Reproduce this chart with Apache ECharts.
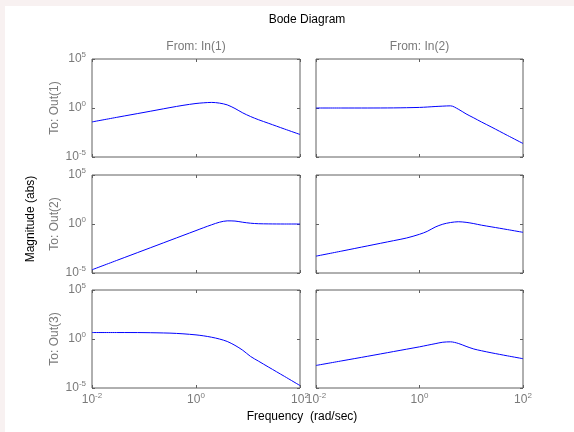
<!DOCTYPE html>
<html><head><meta charset="utf-8">
<script src="https://cdn.jsdelivr.net/npm/echarts@6/dist/echarts.min.js"></script>
<style>
html,body{margin:0;padding:0;background:#f8f1f1;width:574px;height:432px;overflow:hidden}
#paper{position:absolute;left:5px;top:6px;right:0;bottom:0;background:#fff}
#chart{position:absolute;left:0;top:0;width:574px;height:432px}
</style></head><body><div id="paper"></div><div id="chart"></div>
<script>
// Frequencies (rad/sec) shared by all six responses
const freq = [0.01, 0.0316, 0.1, 0.316, 0.562, 1, 1.41, 2, 2.82, 3.98, 5.62, 7.94, 11.2, 15.8, 25.1, 50.1, 100];
// log10 of magnitude (abs), one array per output/input pair
const magOut1In1 = [-1.42, -0.93, -0.45, 0.04, 0.27, 0.46, 0.53, 0.57, 0.5, 0.32, -0.05, -0.5, -0.87, -1.19, -1.57, -2.14, -2.7];
const magOut1In2 = [0, 0, 0, 0.01, 0.03, 0.06, 0.1, 0.15, 0.19, 0.22, -0.12, -0.6, -1.01, -1.43, -1.97, -2.8, -3.62];
const magOut2In1 = [-4.67, -3.67, -2.67, -1.67, -1.17, -0.67, -0.37, -0.08, 0.18, 0.32, 0.3, 0.18, 0.08, 0.03, 0.01, 0, 0];
const magOut2In2 = [-3.28, -2.76, -2.23, -1.7, -1.43, -1.05, -0.75, -0.32, -0.02, 0.15, 0.23, 0.17, 0.04, -0.12, -0.3, -0.57, -0.85];
const magOut3In1 = [0.66, 0.66, 0.65, 0.6, 0.53, 0.42, 0.32, 0.18, 0.0, -0.25, -0.65, -1.15, -1.78, -2.25, -2.88, -3.81, -4.75];
const magOut3In2 = [-2.7, -2.23, -1.76, -1.28, -1.04, -0.8, -0.64, -0.48, -0.33, -0.29, -0.45, -0.75, -1.02, -1.2, -1.42, -1.72, -2.01];
const inputs = ['From: In(1)', 'From: In(2)'];
const outputs = ['To: Out(1)', 'To: Out(2)', 'To: Out(3)'];
const xTicks = [0.01, 1, 100];
const yTicks = [1e-5, 1, 1e5];
const mags = [[magOut1In1, magOut1In2], [magOut2In1, magOut2In2], [magOut3In1, magOut3In2]];

const FONT = '"Liberation Sans", Arial, sans-serif';
const GREY = '#7a7a7a';
const FRAME = '#606060';
const colLeft = [92, 316], colWidth = [208, 207];
const rowTop = [59, 175, 290], rowHeight = 98;

function expLabel(v) {
  const e = Math.round(Math.log10(v));
  return '{b|10}{s|' + e + '}';
}
const rich = {
  b: {fontSize: 12, color: GREY, fontFamily: FONT},
  s: {fontSize: 8, color: GREY, fontFamily: FONT, padding: [0, 0, 8, 0]}
};

const grid = [], xAxis = [], yAxis = [], series = [], graphic = [];
for (let r = 0; r < 3; r++) {
  for (let c = 0; c < 2; c++) {
    const gi = grid.length;
    grid.push({left: colLeft[c], top: rowTop[r], width: colWidth[c], height: rowHeight,
      show: true, borderColor: FRAME, borderWidth: 1, backgroundColor: 'transparent'});
    const xBase = {type: 'log', logBase: 10, gridIndex: gi, min: xTicks[0], max: xTicks[2], interval: 2,
      axisLine: {show: false}, splitLine: {show: false}, minorTick: {show: false},
      axisTick: {show: true, inside: true, length: 3, lineStyle: {color: FRAME}}};
    xAxis.push(Object.assign({}, xBase, {position: 'bottom',
      axisLabel: {show: r === 2, formatter: expLabel, rich: rich, margin: 4, showMinLabel: true, showMaxLabel: true, hideOverlap: false}}));
    xAxis.push(Object.assign({}, xBase, {position: 'top', axisLabel: {show: false}}));
    const yBase = {type: 'log', logBase: 10, gridIndex: gi, min: yTicks[0], max: yTicks[2], interval: 5,
      axisLine: {show: false}, splitLine: {show: false}, minorTick: {show: false},
      axisTick: {show: true, inside: true, length: 3, lineStyle: {color: FRAME}}};
    yAxis.push(Object.assign({}, yBase, {position: 'left',
      axisLabel: {show: c === 0, formatter: expLabel, rich: rich, margin: 6, showMinLabel: true, showMaxLabel: true, hideOverlap: false}}));
    yAxis.push(Object.assign({}, yBase, {position: 'right', axisLabel: {show: false}}));
    const m = mags[r][c];
    series.push({type: 'line', xAxisIndex: gi * 2, yAxisIndex: gi * 2, showSymbol: false, smooth: 0.3,
      lineStyle: {color: '#0000ff', width: 1}, silent: true, animation: false,
      data: freq.map((f, i) => [f, Math.pow(10, m[i])])});
  }
}
// texts
graphic.push({type: 'text', x: 307, y: 20,
  style: {text: 'Bode Diagram', font: '12px ' + FONT, fill: '#000', textAlign: 'center', textVerticalAlign: 'middle'}});
for (let c = 0; c < 2; c++) {
  graphic.push({type: 'text', x: colLeft[c] + colWidth[c] / 2, y: 47,
    style: {text: inputs[c], font: '12px ' + FONT, fill: GREY, textAlign: 'center', textVerticalAlign: 'middle'}});
}
for (let r = 0; r < 3; r++) {
  graphic.push({type: 'text', x: 55, y: rowTop[r] + rowHeight / 2, rotation: Math.PI / 2,
    style: {text: outputs[r], font: '12px ' + FONT, fill: GREY, textAlign: 'center', textVerticalAlign: 'middle'}});
}
graphic.push({type: 'text', x: 31, y: 219, rotation: Math.PI / 2,
  style: {text: 'Magnitude (abs)', font: '12px ' + FONT, fill: '#000', textAlign: 'center', textVerticalAlign: 'middle'}});
graphic.push({type: 'text', x: 302, y: 417,
  style: {text: 'Frequency  (rad/sec)', font: '12px ' + FONT, fill: '#000', textAlign: 'center', textVerticalAlign: 'middle'}});

const chart = echarts.init(document.getElementById('chart'), null, {renderer: 'canvas'});
chart.setOption({animation: false, backgroundColor: 'transparent', grid, xAxis, yAxis, series, graphic});
</script></body></html>
